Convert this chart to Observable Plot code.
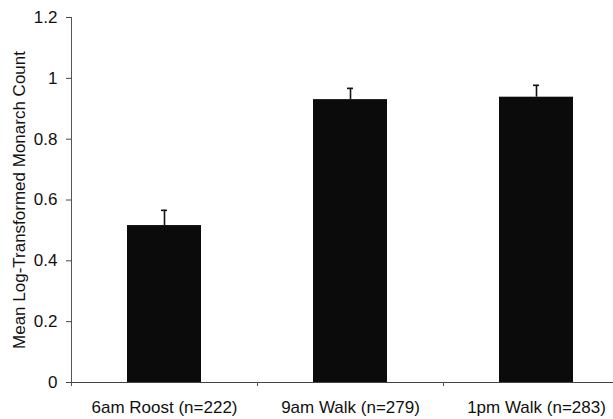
<!DOCTYPE html>
<html>
<head>
<meta charset="utf-8">
<script src="https://cdn.jsdelivr.net/npm/d3@7"></script>
<script src="https://cdn.jsdelivr.net/npm/@observablehq/plot@0.6"></script>
<style>
  html, body { margin: 0; padding: 0; background: #fff; }
  #chart svg { display: block; }
</style>
</head>
<body>
<div id="chart"></div>
<script>
const categories = ["6am Roost (n=222)", "9am Walk (n=279)", "1pm Walk (n=283)"];
const means = [0.516, 0.930, 0.938];
const upperErr = [0.566, 0.967, 0.977];
const yTicks = [0, 0.2, 0.4, 0.6, 0.8, 1, 1.2];
const yLabel = "Mean Log-Transformed Monarch Count";

const data = categories.map((c, i) => ({cat: c, mean: means[i], hi: upperErr[i]}));

const chart = Plot.plot({
  width: 613,
  height: 419,
  marginLeft: 71,
  marginRight: 0,
  marginTop: 17,
  marginBottom: 37,
  style: {fontFamily: "'Liberation Sans', Arial, sans-serif", fontSize: "17px", color: "#111", background: "#fff"},
  x: {type: "band", domain: categories, range: [71, 629], paddingInner: 0.6, paddingOuter: 0.3},
  y: {domain: [0, 1.2]},
  marks: [
    Plot.barY(data, {x: "cat", y: "mean", fill: "#0b0b0b"}),
    Plot.ruleX(data, {x: "cat", y1: "mean", y2: "hi", stroke: "#111", strokeWidth: 1.6}),
    Plot.tickY(data, {x: "cat", y: "hi", stroke: "#111", strokeWidth: 1.6, insetLeft: 34, insetRight: 34}),
    Plot.frame({anchor: "left", stroke: "#555", strokeWidth: 1}),
    Plot.ruleY([0], {stroke: "#444", strokeWidth: 1}),
    Plot.ruleX(categories, {x: d => d, y1: 0, y2: 0, dx: -93, insetBottom: -4, stroke: "#555", strokeWidth: 1}),
    Plot.axisY({ticks: yTicks, tickFormat: d => String(+d.toFixed(1)), tickSize: 5, tickPadding: 9, label: null, stroke: "#444", fontSize: 17}),
    Plot.axisX({tickSize: 0, tickPadding: 18, label: null, fontSize: 17}),
    Plot.text([yLabel], {text: d => d, frameAnchor: "left", textAnchor: "middle", lineAnchor: "middle", rotate: -90, dx: -52, fontSize: 17, fill: "#111"})
  ]
});
document.getElementById("chart").appendChild(chart);
</script>
</body>
</html>
